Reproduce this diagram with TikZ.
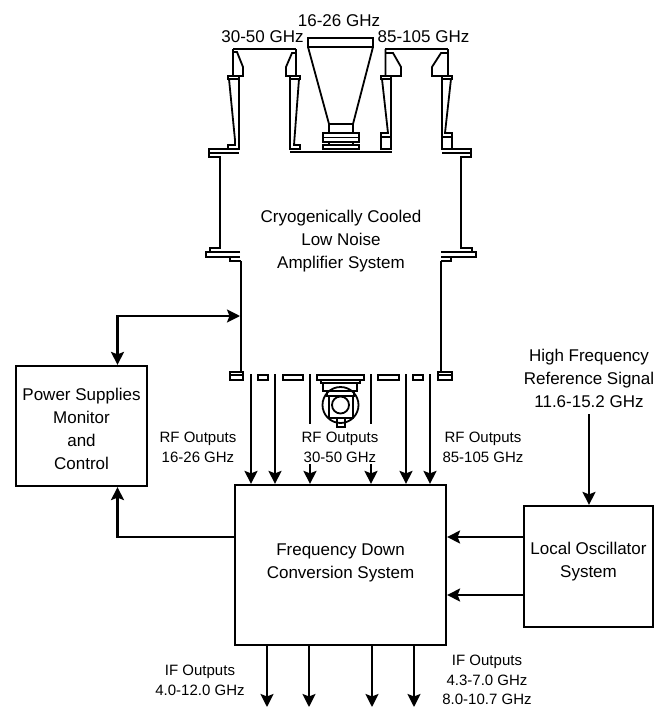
\documentclass[tikz,border=0pt]{standalone}
\usepackage{fontspec}
\setmainfont{Liberation Sans}
\usetikzlibrary{arrows.meta, positioning}
\tikzset{
  sysbox/.style={draw, line width=2.2pt, minimum width=131pt, minimum height=120pt, inner sep=0pt},
  lbl/.style={align=center, font=\fontsize{15}{20}\selectfont, inner sep=0pt},
  toplbl/.style={align=center, font=\fontsize{17}{23}\selectfont, inner sep=0pt},
  sig/.style={-{Stealth[length=13pt,width=13pt,inset=2.5pt]}, line width=2.2pt},
  wall/.style={line width=2.2pt},
  part/.style={line width=1.8pt, line join=miter},
}
\begin{document}
\begin{tikzpicture}[x=1pt, y=-1pt]
  \useasboundingbox (0,0) rectangle (666,707);
  % boxes
  \node[sysbox] (power) at (81.5,426) {};
  \node[toplbl] (powertxt) at (81.5,429) {Power Supplies\\Monitor\\and\\Control};
  \node[sysbox, minimum width=211pt, minimum height=160pt] (down) at (340.5,565) {};
  \node[toplbl] (downtxt) at (340.5,562.5) {Frequency Down\\Conversion System};
  \node[sysbox, minimum width=129pt, minimum height=121pt] (lo) at (588.5,566.5) {};
  \node[toplbl] (lotxt) at (588.5,562) {Local Oscillator\\System};
  % horn 16-26
  \draw[part] (308,38) rectangle (373,47);
  \draw[part] (308,47) -- (329,124) (373,47) -- (353,124);
  \draw[part] (329,124) rectangle (353,133);
  \draw[part] (323,133) rectangle (359,142) (323,137.5) -- (359,137.5);
  \draw[part] (329,142) -- (329,145) (353,142) -- (353,145);
  \draw[part] (323,145) rectangle (359,149);
  % horns 30-50
  \draw[wall] (233,49) -- (296,49);
  \draw[part] (233,49) -- (233,76) -- (243,76) -- (243,67) -- (237,52) -- (233,52);
  \draw[part] (296,49) -- (296,76) -- (286,76) -- (286,67) -- (292,53) -- (296,53);
  \draw[part] (228,76) rectangle (239,79);
  \draw[part] (229,79) -- (235,140) -- (235,145) -- (228,145) -- (228,149) -- (239,149) -- (239,79);
  \draw[part] (290,76) rectangle (300,79);
  \draw[part] (290,79) -- (290,149) -- (300,149) -- (300,145) -- (294,145) -- (299,79);
  % horns 85-105
  \draw[wall] (385,49) -- (448,49);
  \draw[part] (385.5,49) -- (385.5,76) -- (401,76) -- (401,67) -- (393,53) -- (385.5,53);
  \draw[part] (448,49) -- (448,76) -- (432,76) -- (432,67) -- (441,53) -- (448,53);
  \draw[part] (381,76) rectangle (391,79);
  \draw[part] (382,79) -- (388,133) -- (381,133) -- (381,149) -- (391,149) -- (391,79) (381,137) -- (391,137);
  \draw[part] (442,76) rectangle (452,79);
  \draw[part] (442,79) -- (442,149) -- (452,149) -- (452,133) -- (445,133) -- (451,79) (442,137) -- (452,137);
  % dewar
  \draw[wall] (290,152) -- (392,152);
  \draw[part] (239,149) -- (209,149) -- (209,157) -- (221,157) (209,153) -- (239,153);
  \draw[part] (442,149) -- (471,149) -- (471,157) -- (460,157) (471,153) -- (442,153);
  \draw[wall] (220,157) -- (220,248) -- (210,248) -- (210,252) (461,157) -- (461,248) -- (472,248) -- (472,252);
  \draw[part] (240,252) -- (206,252) -- (206,257) -- (240,257) (441,252) -- (476,252) -- (476,257) -- (441,257);
  \draw[part] (230,257) -- (230,261) -- (241,261) (451,257) -- (451,261) -- (441,261);
  \draw[wall] (241,261) -- (241,372) (441,261) -- (441,372);
  \node[toplbl] (cryo) at (341,241) {Cryogenically Cooled\\Low Noise\\Amplifier System};
  % window blocks
  \draw[part] (230,372) rectangle (243,380) (230,375) -- (243,375);
  \draw[part] (258,375) rectangle (268,380);
  \draw[part] (283,375) rectangle (303,380);
  \draw[part] (378,375) rectangle (399,380);
  \draw[part] (413,375) rectangle (423,380);
  \draw[part] (438,372) rectangle (452,380) (438,375) -- (452,375);
  % center feed
  \draw[part] (317,375) rectangle (364,380);
  \draw[part] (321,380) rectangle (360,383);
  \draw[part] (323,383) rectangle (357,391);
  \draw[part] (327,391) rectangle (354,396);
  \draw[part] (340.5,405) circle (18);
  \draw[wall, fill=white] (329,396) rectangle (353,418);
  \draw[part] (340.5,405) circle (8.5);
  \draw[part] (337,418) rectangle (345,427);
  % outputs
  \coordinate (rf1) at (251,374);
  \coordinate (rf2) at (275,374);
  \coordinate (rf3) at (310,374);
  \coordinate (rf3b) at (310,424);
  \coordinate (rf3c) at (310,464);
  \coordinate (rf4) at (371,374);
  \coordinate (rf4b) at (371,424);
  \coordinate (rf4c) at (371,464);
  \coordinate (rf5) at (406,374);
  \coordinate (rf6) at (430,374);
  \foreach \i in {rf1,rf2,rf5,rf6} \draw[sig] (\i) -- (\i |- down.north);
  \foreach \i in {rf3,rf4} \draw[wall] (\i) -- (\i b);
  \foreach \i in {rf3c,rf4c} \draw[sig] (\i) -- (\i |- down.north);
  \node[lbl] (rfa) at (198,447) {RF Outputs\\16-26 GHz};
  \node[lbl] (rfb) at (340,447) {RF Outputs\\30-50 GHz};
  \node[lbl] (rfc) at (483,447) {RF Outputs\\85-105 GHz};
  \node[toplbl] (h1) at (339,20.5) {16-26 GHz};
  \node[toplbl] (h2) at (262.5,36.5) {30-50 GHz};
  \node[toplbl] (h3) at (423.5,36.5) {85-105 GHz};
  % control
  \coordinate (port) at (240,316);
  \coordinate (knee) at (117.5,316);
  \draw[{Stealth[length=13pt,width=13pt,inset=2.5pt]}-{Stealth[length=13pt,width=13pt,inset=2.5pt]}, line width=2.2pt] (power.north -| knee) -- (knee) -- (port);
  \draw[sig] (down.west |- 0,537) -- (117.5,537) -- (power.south -| 117.5,0);
  % local oscillator
  \draw[sig] (lo.west |- 0,537) -- (down.east |- 0,537);
  \draw[sig] (lo.west |- 0,595) -- (down.east |- 0,595);
  \node[toplbl] (ref) at (589,378) {High Frequency\\Reference Signal\\11.6-15.2 GHz};
  \coordinate (refout) at (589,414);
  \draw[sig] (refout) -- (refout |- lo.north);
  % IF
  \foreach \x/\n in {267/a,309/b,372/c,414/d} {
    \coordinate (if\n) at (\x,707);
    \draw[sig] (if\n |- down.south) -- (if\n);
  }
  \node[lbl] (ifl) at (200,680) {IF Outputs\\4.0-12.0 GHz};
  \node[lbl, font=\fontsize{15}{19.5}\selectfont] (ifr) at (487,680) {IF Outputs\\4.3-7.0 GHz\\8.0-10.7 GHz};
\end{tikzpicture}
\end{document}
